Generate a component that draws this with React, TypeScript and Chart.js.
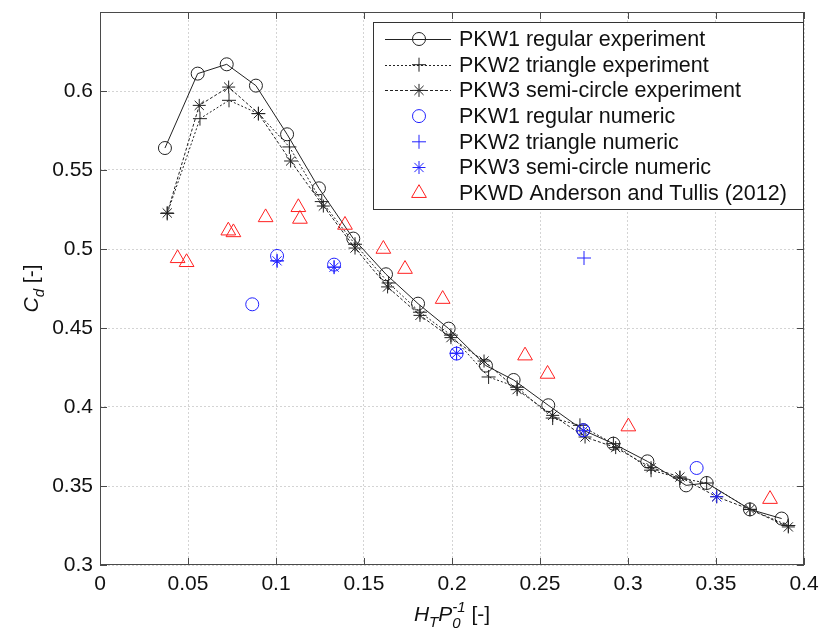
import React, { useEffect, useRef } from 'react';
import { Chart, registerables } from 'chart.js';

Chart.register(...registerables);

// ---------- data ----------
const pkw1ExpX = [0.0369, 0.0555, 0.0720, 0.0886, 0.1063, 0.1244, 0.1439, 0.1625, 0.1807, 0.1981, 0.2193, 0.2350, 0.2547, 0.2746, 0.2917, 0.3110, 0.3330, 0.3447, 0.3693, 0.3873];
const pkw1ExpY = [0.5639, 0.6110, 0.6169, 0.6034, 0.5726, 0.5384, 0.5066, 0.4840, 0.4654, 0.4496, 0.4262, 0.4171, 0.4011, 0.3853, 0.3768, 0.3656, 0.3504, 0.3519, 0.3352, 0.3294];

const pkw2ExpX = [0.0382, 0.0568, 0.0733, 0.0900, 0.1076, 0.1260, 0.1449, 0.1640, 0.1818, 0.1994, 0.2208, 0.2370, 0.2572, 0.2727, 0.2917, 0.3131, 0.3295, 0.3447, 0.3693, 0.3911];
const pkw2ExpY = [0.5225, 0.5825, 0.5941, 0.5857, 0.5646, 0.5300, 0.5030, 0.4785, 0.4600, 0.4455, 0.4190, 0.4125, 0.3930, 0.3884, 0.3768, 0.3600, 0.3550, 0.3519, 0.3352, 0.3250];

const pkw3ExpX = [0.0382, 0.0564, 0.0731, 0.0900, 0.1083, 0.1269, 0.1449, 0.1634, 0.1818, 0.1994, 0.2182, 0.2370, 0.2572, 0.2756, 0.2930, 0.3131, 0.3295, 0.3504, 0.3693, 0.3911];
const pkw3ExpY = [0.5228, 0.5909, 0.6025, 0.5857, 0.5557, 0.5272, 0.5006, 0.4760, 0.4580, 0.4439, 0.4291, 0.4110, 0.3947, 0.3810, 0.3743, 0.3616, 0.3557, 0.3432, 0.3352, 0.3241];

const pkw1NumX = [0.0865, 0.1006, 0.1330, 0.2026, 0.2746, 0.3390];
const pkw1NumY = [0.4650, 0.4956, 0.4901, 0.4338, 0.3853, 0.3614];

const pkw2NumX = [0.1006, 0.1330, 0.2026, 0.2750];
const pkw2NumY = [0.4925, 0.4885, 0.4340, 0.4943];

const pkw3NumX = [0.1006, 0.1330, 0.2026, 0.2746, 0.3504];
const pkw3NumY = [0.4925, 0.4885, 0.4340, 0.3850, 0.3432];

const andersonX = [0.0441, 0.0492, 0.0729, 0.0758, 0.0941, 0.1127, 0.1136, 0.1392, 0.1610, 0.1733, 0.1947, 0.2415, 0.2543, 0.3002, 0.3807];
const andersonY = [0.4941, 0.4916, 0.5116, 0.5105, 0.5200, 0.5264, 0.5190, 0.5152, 0.5000, 0.4873, 0.4683, 0.4325, 0.4209, 0.3876, 0.3417];

const seriesLabels = [
  'PKW1 regular experiment',
  'PKW2 triangle experiment',
  'PKW3 semi-circle experiment',
  'PKW1 regular numeric',
  'PKW2 triangle numeric',
  'PKW3 semi-circle numeric',
  'PKWD Anderson and Tullis (2012)',
];

const xTickValues = [0, 0.05, 0.1, 0.15, 0.2, 0.25, 0.3, 0.35, 0.4];
const yTickValues = [0.3, 0.35, 0.4, 0.45, 0.5, 0.55, 0.6];

const FONT_FAMILY = '"Liberation Sans", Arial, Helvetica, sans-serif';
const BLACK = '#222222';
const BLUE = '#2222ff';
const RED = '#ff2020';

const zip = (xs: number[], ys: number[]) => xs.map((x, i) => ({ x, y: ys[i] }));
const fmt = (v: number) => String(Math.round(v * 100) / 100);

type MarkerStyle = 'circle' | 'cross' | 'star' | 'triangle';

function drawMarker(ctx: CanvasRenderingContext2D, style: MarkerStyle, x: number, y: number, r: number) {
  ctx.beginPath();
  if (style === 'circle') {
    ctx.arc(x, y, r, 0, Math.PI * 2);
  } else if (style === 'cross') {
    ctx.moveTo(x - r, y); ctx.lineTo(x + r, y);
    ctx.moveTo(x, y - r); ctx.lineTo(x, y + r);
  } else if (style === 'star') {
    const d = r * 0.7071;
    ctx.moveTo(x - r, y); ctx.lineTo(x + r, y);
    ctx.moveTo(x, y - r); ctx.lineTo(x, y + r);
    ctx.moveTo(x - d, y - d); ctx.lineTo(x + d, y + d);
    ctx.moveTo(x + d, y - d); ctx.lineTo(x - d, y + d);
  } else if (style === 'triangle') {
    let rad = 0;
    ctx.moveTo(x + Math.sin(rad) * r, y - Math.cos(rad) * r);
    rad += (2 * Math.PI) / 3;
    ctx.lineTo(x + Math.sin(rad) * r, y - Math.cos(rad) * r);
    rad += (2 * Math.PI) / 3;
    ctx.lineTo(x + Math.sin(rad) * r, y - Math.cos(rad) * r);
    ctx.closePath();
  }
  ctx.stroke();
}

type Part = { t: string; it: boolean; s: number; dy: number; noAdvance?: boolean };

function partsWidth(ctx: CanvasRenderingContext2D, parts: Part[]) {
  let w = 0;
  for (const p of parts) {
    ctx.font = `${p.it ? 'italic ' : ''}${p.s}px ${FONT_FAMILY}`;
    if (!p.noAdvance) w += ctx.measureText(p.t).width;
  }
  return w;
}

function drawParts(ctx: CanvasRenderingContext2D, parts: Part[], x0: number, y0: number) {
  let x = x0;
  ctx.textBaseline = 'alphabetic';
  ctx.textAlign = 'left';
  for (const p of parts) {
    ctx.font = `${p.it ? 'italic ' : ''}${p.s}px ${FONT_FAMILY}`;
    ctx.fillText(p.t, x, y0 + p.dy);
    if (!p.noAdvance) x += ctx.measureText(p.t).width;
  }
}

const legendEntries: { color: string; marker: MarkerStyle; r: number; line: boolean; dash: number[] }[] = [
  { color: BLACK, marker: 'circle', r: 6.5, line: true, dash: [] },
  { color: BLACK, marker: 'cross', r: 7, line: true, dash: [2, 2] },
  { color: BLACK, marker: 'star', r: 6.5, line: true, dash: [3, 2] },
  { color: BLUE, marker: 'circle', r: 6.5, line: false, dash: [] },
  { color: BLUE, marker: 'cross', r: 7, line: false, dash: [] },
  { color: BLUE, marker: 'star', r: 6.5, line: false, dash: [] },
  { color: RED, marker: 'triangle', r: 8.5, line: false, dash: [] },
];

const decorPlugin = {
  id: 'decor',
  afterDraw(chart: any) {
    const ctx: CanvasRenderingContext2D = chart.ctx;
    const a = chart.chartArea;
    const xs = chart.scales.x;
    const ys = chart.scales.y;
    ctx.save();

    // frame
    ctx.strokeStyle = '#4a4a4a';
    ctx.lineWidth = 1;
    ctx.setLineDash([]);
    ctx.strokeRect(Math.round(a.left) + 0.5, Math.round(a.top) + 0.5, Math.round(a.right - a.left) - 1, Math.round(a.bottom - a.top) - 1);

    // inward ticks
    const tl = 7;
    ctx.beginPath();
    for (const v of xTickValues) {
      const px = Math.round(xs.getPixelForValue(v)) + 0.5;
      ctx.moveTo(px, a.bottom); ctx.lineTo(px, a.bottom - tl);
      ctx.moveTo(px, a.top); ctx.lineTo(px, a.top + tl);
    }
    for (const v of yTickValues) {
      const py = Math.round(ys.getPixelForValue(v)) + 0.5;
      ctx.moveTo(a.left, py); ctx.lineTo(a.left + tl, py);
      ctx.moveTo(a.right, py); ctx.lineTo(a.right - tl, py);
    }
    ctx.stroke();

    // legend
    const bx = 373, by = 22, bw = 430, bh = 187;
    ctx.fillStyle = '#ffffff';
    ctx.fillRect(bx, by, bw, bh);
    ctx.strokeStyle = '#333333';
    ctx.strokeRect(bx + 0.5, by + 0.5, bw, bh);
    const rowH = 25.7;
    const row0 = 39;
    legendEntries.forEach((e, i) => {
      const cy = row0 + i * rowH;
      ctx.strokeStyle = e.color;
      ctx.lineWidth = 1;
      if (e.line) {
        ctx.setLineDash(e.dash);
        ctx.beginPath();
        ctx.moveTo(385, Math.round(cy) + 0.5);
        ctx.lineTo(451, Math.round(cy) + 0.5);
        ctx.stroke();
      }
      ctx.setLineDash([]);
      drawMarker(ctx, e.marker, 419, cy, e.r);
      ctx.fillStyle = '#111111';
      ctx.font = `21.5px ${FONT_FAMILY}`;
      ctx.textBaseline = 'middle';
      ctx.textAlign = 'left';
      ctx.fillText(seriesLabels[i], 459, cy + 1);
    });

    // axis titles
    ctx.fillStyle = '#111111';
    const xParts: Part[] = [
      { t: 'H', it: true, s: 21, dy: 0 },
      { t: 'T', it: true, s: 15, dy: 6 },
      { t: 'P', it: true, s: 21, dy: 0 },
      { t: '0', it: true, s: 15, dy: 7, noAdvance: true },
      { t: '-1', it: true, s: 15, dy: -9 },
      { t: ' [-]', it: false, s: 21, dy: 0 },
    ];
    const xw = partsWidth(ctx, xParts);
    const cx = (a.left + a.right) / 2;
    drawParts(ctx, xParts, cx - xw / 2, 621);

    const yParts: Part[] = [
      { t: 'C', it: true, s: 21, dy: 0 },
      { t: 'd', it: true, s: 15, dy: 6 },
      { t: ' [-]', it: false, s: 21, dy: 0 },
    ];
    const yw = partsWidth(ctx, yParts);
    const cy = (a.top + a.bottom) / 2;
    ctx.translate(38, cy);
    ctx.rotate(-Math.PI / 2);
    drawParts(ctx, yParts, -yw / 2, 0);

    ctx.restore();
  },
};

export default function App() {
  const ref = useRef<HTMLCanvasElement>(null);

  useEffect(() => {
    if (!ref.current) return;
    const lineDs = (label: string, data: any[], style: MarkerStyle, r: number, dash: number[]) => ({
      label,
      data,
      showLine: true,
      borderColor: BLACK,
      borderWidth: 1,
      borderDash: dash,
      pointStyle: style,
      pointRadius: r,
      pointBorderColor: BLACK,
      pointBackgroundColor: 'rgba(0,0,0,0)',
      pointBorderWidth: 1,
      order: 5,
    });
    const markDs = (label: string, data: any[], style: MarkerStyle, r: number, color: string, order: number) => ({
      label,
      data,
      showLine: false,
      pointStyle: style,
      pointRadius: r,
      pointBorderColor: color,
      pointBackgroundColor: 'rgba(0,0,0,0)',
      pointBorderWidth: 1,
      borderColor: color,
      order,
    });

    const chart = new Chart(ref.current, {
      type: 'scatter',
      data: {
        datasets: [
          lineDs(seriesLabels[0], zip(pkw1ExpX, pkw1ExpY), 'circle', 6.5, []),
          lineDs(seriesLabels[1], zip(pkw2ExpX, pkw2ExpY), 'cross', 7, [2, 2]),
          lineDs(seriesLabels[2], zip(pkw3ExpX, pkw3ExpY), 'star', 6.5, [3, 2]),
          markDs(seriesLabels[3], zip(pkw1NumX, pkw1NumY), 'circle', 6.5, BLUE, 2),
          markDs(seriesLabels[4], zip(pkw2NumX, pkw2NumY), 'cross', 7, BLUE, 2),
          markDs(seriesLabels[5], zip(pkw3NumX, pkw3NumY), 'star', 6.5, BLUE, 2),
          markDs(seriesLabels[6], zip(andersonX, andersonY), 'triangle', 8.5, RED, 1),
        ] as any,
      },
      options: {
        animation: false,
        responsive: false,
        devicePixelRatio: 1,
        layout: { padding: { top: 12, right: 16, left: 0, bottom: 0 } },
        plugins: {
          legend: { display: false },
          tooltip: { enabled: false },
        },
        scales: {
          x: {
            type: 'linear',
            min: 0,
            max: 0.4,
            afterFit: (s: any) => { s.height = 69; s.paddingLeft = 0; s.paddingRight = 0; },
            afterBuildTicks: (s: any) => { s.ticks = xTickValues.map((v) => ({ value: v })); },
            ticks: {
              autoSkip: false,
              maxRotation: 0,
              padding: 7,
              color: '#111111',
              font: { family: FONT_FAMILY, size: 21 },
              callback: (v: any) => fmt(Number(v)),
            },
            grid: { color: '#d4d4d4', drawTicks: false, lineWidth: 1 },
            border: { display: false, dash: [2, 2] },
          },
          y: {
            type: 'linear',
            min: 0.3,
            max: 0.65,
            afterFit: (s: any) => { s.width = 100; s.paddingTop = 0; s.paddingBottom = 0; },
            afterBuildTicks: (s: any) => { s.ticks = yTickValues.map((v) => ({ value: v })); },
            ticks: {
              autoSkip: false,
              padding: 7,
              color: '#111111',
              font: { family: FONT_FAMILY, size: 21 },
              callback: (v: any) => fmt(Number(v)),
            },
            grid: { color: '#d4d4d4', drawTicks: false, lineWidth: 1 },
            border: { display: false, dash: [2, 2] },
          },
        },
      } as any,
      plugins: [decorPlugin],
    });
    return () => chart.destroy();
  }, []);

  return (
    <div style={{ position: 'absolute', left: 0, top: 0, width: 820, height: 634, background: '#ffffff' }}>
      <canvas ref={ref} width={820} height={634} style={{ display: 'block', width: 820, height: 634 }} />
    </div>
  );
}
